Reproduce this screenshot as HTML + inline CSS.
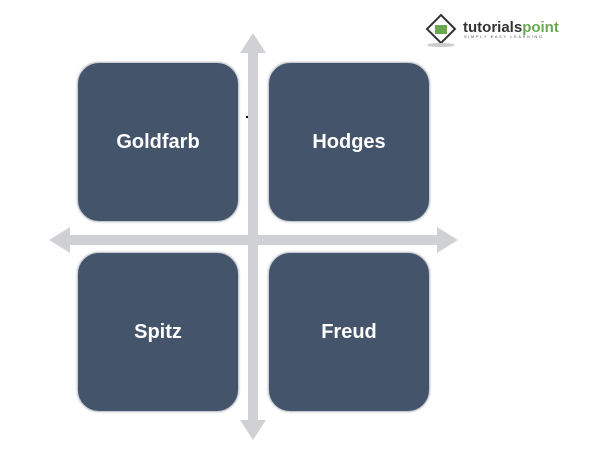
<!DOCTYPE html>
<html><head><style>
body{margin:0;width:600px;height:450px;background:#fff;overflow:hidden;position:relative;font-family:"Liberation Sans",sans-serif}
.b{position:absolute;width:160px;height:158px;background:#44546a;border-radius:22px;border:1px solid #c9ced6;box-shadow:0 0 2px #bbb;color:#fff;font-weight:bold;font-size:20px;display:flex;align-items:center;justify-content:center}
</style></head><body>
<svg width="600" height="450" style="position:absolute;left:0;top:0">
<g fill="#d0d1d5">
<rect x="248" y="52" width="10" height="370"/>
<polygon points="253,33 240,53 266,53"/>
<polygon points="253,440 240,420 266,420"/>
<rect x="68" y="235" width="372" height="10"/>
<polygon points="49,240 70,227 70,253"/>
<polygon points="458,240 437,227 437,253"/>
</g>
<rect x="246" y="116" width="2" height="2" fill="#000"/>
<g transform="translate(441,29)">
<polygon points="0,-14 14,0 0,14 -14,0" fill="none" stroke="#333" stroke-width="2"/>
<rect x="-6" y="-4" width="12" height="9" fill="#6aa84f"/>
</g>
<ellipse cx="441" cy="45" rx="14" ry="2" fill="#ccc"/>
<text x="463" y="32" font-family="Liberation Sans" font-weight="bold" font-size="15" fill="#333">tutorials<tspan fill="#6aa84f">point</tspan></text>
<text x="464" y="38" font-family="Liberation Sans" font-size="4" letter-spacing="1.6" fill="#555">SIMPLY EASY LEARNING</text>
</svg>
<div class="b" style="left:77px;top:62px">Goldfarb</div>
<div class="b" style="left:268px;top:62px">Hodges</div>
<div class="b" style="left:77px;top:252px">Spitz</div>
<div class="b" style="left:268px;top:252px">Freud</div>
</body></html>
